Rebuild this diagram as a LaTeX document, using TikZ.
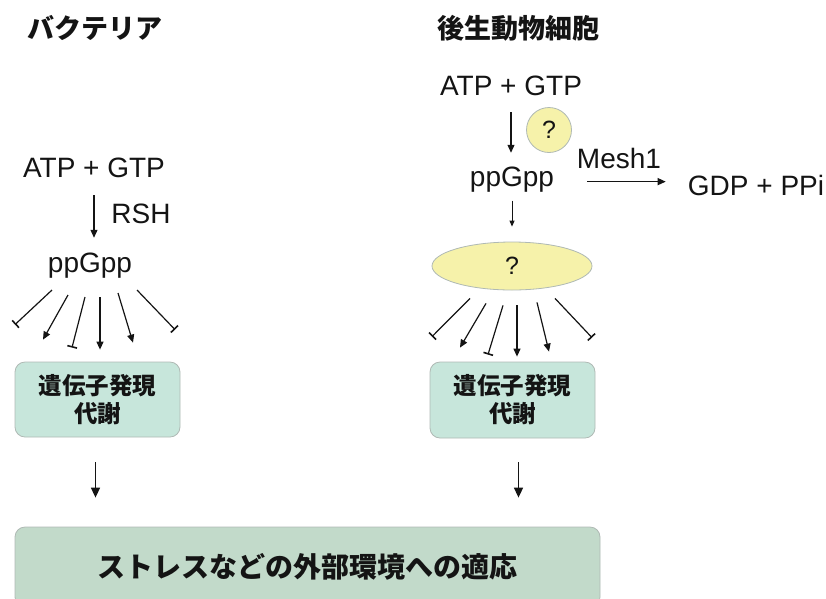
\documentclass[tikz,border=0pt]{standalone}
\usepackage{fontspec}
\setmainfont{Liberation Sans}
\newfontfamily\jp{Noto Sans CJK JP}
\usetikzlibrary{arrows.meta,shapes.geometric,calc}
\definecolor{genefill}{RGB}{199,230,219}
\definecolor{adaptfill}{RGB}{194,218,202}
\definecolor{qfill}{RGB}{246,242,170}
\definecolor{edgegray}{RGB}{175,185,180}
\definecolor{ink}{RGB}{20,20,20}
\begin{document}
\begin{tikzpicture}[x=1pt,y=-1pt,
  lat/.style={font=\fontsize{28}{32}\selectfont, inner sep=0pt, text=ink},
  qtext/.style={font=\fontsize{25}{28}\selectfont, text=ink},
  titletext/.style={font=\jp\bfseries\fontsize{27}{32}\selectfont, inner sep=0pt, text=ink},
  genebox/.style={draw=edgegray, line width=0.8pt, fill=genefill, rounded corners=10pt,
     minimum width=165pt, align=center, font=\jp\bfseries\fontsize{23.5}{28}\selectfont, text=ink},
  adaptbox/.style={draw=edgegray, line width=0.8pt, fill=adaptfill, rounded corners=10pt,
     minimum width=585pt, minimum height=80pt, font=\jp\bfseries\fontsize{28}{32}\selectfont, text=ink},
  qshape/.style={draw=edgegray, line width=0.8pt, fill=qfill, qtext},
  arr/.style={draw=ink, line width=1.2pt, -{Triangle[length=8pt,width=7pt]}},
  barr/.style={draw=ink, line width=1.6pt, -{Triangle[length=10pt,width=9pt]}},
  sarr/.style={draw=ink, line width=1pt, -{Triangle[length=6pt,width=5pt]}},
  inh/.style={draw=ink, line width=1.2pt, -{Bar[width=10pt,line width=1.6pt]}},
]
\useasboundingbox (0,0) rectangle (826,598);
\clip (0,0) rectangle (826,598);

% titles
\node[titletext] (tL) at (95,28) {バクテリア};
\node[titletext] (tR) at (518,28) {後生動物細胞};

% ---------- bacteria ----------
\node[lat,anchor=base] (atpL) at (94,177) {ATP + GTP};
\node[lat,anchor=base] (rsh) at (141,223) {RSH};
\node[lat,anchor=base] (ppL) at (90,272) {ppGpp};
\draw[arr, shorten <=18pt, shorten >=14.5pt] (atpL.south) -- (atpL.south |- ppL.north);

\node[genebox, minimum height=75pt] (geneL) at (97.5,399.5) {遺伝子発現\\代謝};

\draw[inh] ([shift={(-38,18)}]ppL.base) -- ([shift={(-82.5,-37)}]geneL.north);
\draw[arr] ([shift={(-22,23)}]ppL.base) -- ([shift={(-54.5,-22)}]geneL.north);
\draw[inh] ([shift={(-5,25)}]ppL.base) -- ([shift={(-25.5,-14)}]geneL.north);
\draw[arr] ([shift={(10,25)}]ppL.base) -- ([shift={(2.5,-12)}]geneL.north);
\draw[arr] ([shift={(28,21)}]ppL.base) -- ([shift={(35.5,-19)}]geneL.north);
\draw[inh] ([shift={(47,18)}]ppL.base) -- ([shift={(77.5,-32)}]geneL.north);

% ---------- metazoan ----------
\node[lat,anchor=base] (atpR) at (511,95) {ATP + GTP};
\node[qshape, circle, minimum size=45pt, inner sep=0pt] (q1) at (549,130) {?};
\node[lat,anchor=base] (ppR) at (512,186.5) {ppGpp};
\node[lat,anchor=base] (mesh) at (619,168) {Mesh1};
\node[lat,anchor=base] (gdp) at (756,195) {GDP + PPi};
\node[qshape, ellipse, minimum width=160pt, minimum height=48pt, inner sep=0pt] (ell) at (512,266) {?};

\draw[arr, shorten <=17pt, shorten >=14pt] (atpR.south) -- (atpR.south |- ppR.north);
\draw[arr, shorten <=33pt, shorten >=22pt] ([yshift=-2pt]ppR.east) -- ([yshift=-2pt]ppR.east -| gdp.west);
\draw[sarr, shorten <=8pt, shorten >=15pt] (ppR.south) -- (ppR.south |- ell.north);

\node[genebox, minimum height=76pt] (geneR) at (512.5,400) {遺伝子発現\\代謝};

\draw[inh] ([shift={(-42,8)}]ell.south) -- ([shift={(-80.5,-25)}]geneR.north);
\draw[arr] ([shift={(-26,13)}]ell.south) -- ([shift={(-52.5,-14)}]geneR.north);
\draw[inh] ([shift={(-9,15)}]ell.south) -- ([shift={(-24.5,-7)}]geneR.north);
\draw[arr] ([shift={(5,15)}]ell.south) -- ([shift={(4.5,-5)}]geneR.north);
\draw[arr] ([shift={(25,12)}]ell.south) -- ([shift={(36.5,-10)}]geneR.north);
\draw[inh] ([shift={(43,8)}]ell.south) -- ([shift={(79.5,-24)}]geneR.north);

% ---------- bottom ----------
\node[adaptbox] (adapt) at (307.5,567) {ストレスなどの外部環境への適応};

\draw[barr, shorten <=25pt, shorten >=29pt] ([xshift=-2pt]geneL.south) -- ([xshift=-2pt]geneL.south |- adapt.north);
\draw[barr, shorten <=24pt, shorten >=29pt] ([xshift=6pt]geneR.south) -- ([xshift=6pt]geneR.south |- adapt.north);
\end{tikzpicture}
\end{document}
